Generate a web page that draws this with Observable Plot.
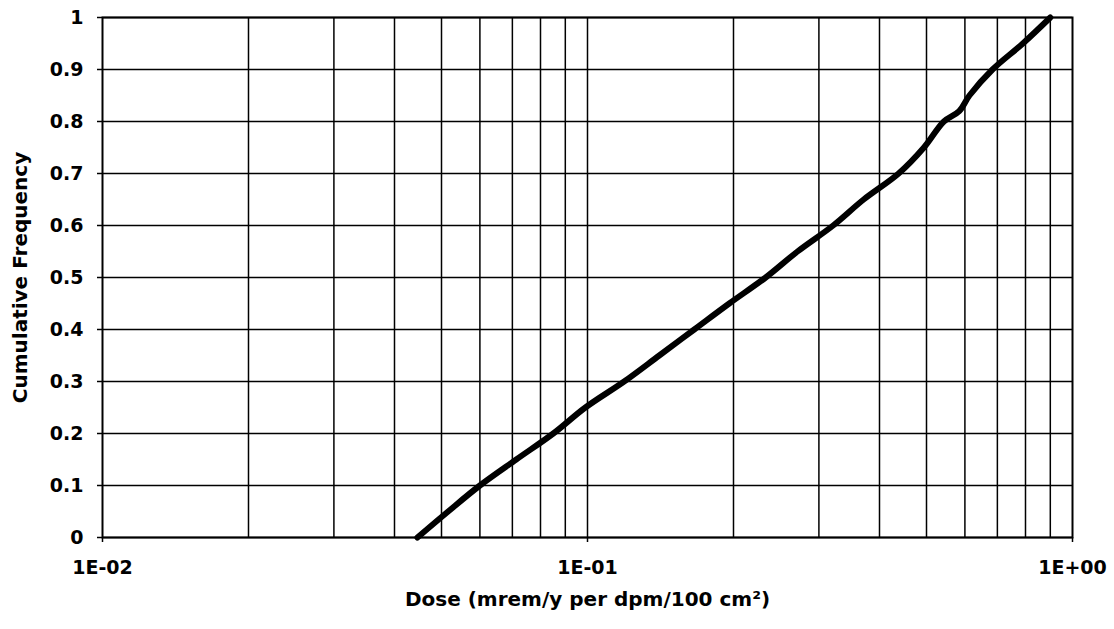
<!DOCTYPE html>
<html>
<head>
<meta charset="utf-8">
<script src="https://cdn.jsdelivr.net/npm/d3@7"></script>
<script src="https://cdn.jsdelivr.net/npm/@observablehq/plot@0.6"></script>
<style>
  html, body { margin: 0; padding: 0; background: #fff; }
</style>
</head>
<body>
<div id="chart"></div>
<script>
// Cumulative frequency curve (dose vs cumulative frequency)
const dose = [0.0446, 0.0516, 0.060, 0.0713, 0.085, 0.099, 0.119, 0.1406, 0.166, 0.196, 0.233, 0.271, 0.321, 0.371, 0.438, 0.494, 0.543, 0.584, 0.613, 0.684, 0.790, 0.900];
const freq = [0, 0.05, 0.10, 0.15, 0.20, 0.25, 0.30, 0.35, 0.40, 0.45, 0.50, 0.55, 0.60, 0.65, 0.70, 0.75, 0.80, 0.82, 0.85, 0.90, 0.95, 1.00];

const xMajorTicks = [0.01, 0.1, 1];
const xTickLabels = ["1E-02", "1E-01", "1E+00"];
const xGridTicks = [0.02, 0.03, 0.04, 0.05, 0.06, 0.07, 0.08, 0.09, 0.1, 0.2, 0.3, 0.4, 0.5, 0.6, 0.7, 0.8, 0.9];
const yTicks = [0, 0.1, 0.2, 0.3, 0.4, 0.5, 0.6, 0.7, 0.8, 0.9, 1];
const yTickLabels = ["0", "0.1", "0.2", "0.3", "0.4", "0.5", "0.6", "0.7", "0.8", "0.9", "1"];
const xTitle = "Dose (mrem/y per dpm/100 cm²)";
const yTitle = "Cumulative Frequency";

const data = dose.map((d, i) => ({dose: d, freq: freq[i]}));

const chart = Plot.plot({
  width: 1114,
  height: 629,
  marginLeft: 102,
  marginRight: 42,
  marginTop: 17,
  marginBottom: 92,
  style: {fontFamily: "'DejaVu Sans', sans-serif", fontSize: "19px", fontWeight: "bold", color: "black", background: "white"},
  x: {type: "log", domain: [0.01, 1]},
  y: {domain: [0, 1]},
  marks: [
    Plot.ruleX(xGridTicks, {stroke: "black", strokeWidth: 1.5}),
    Plot.ruleY(yTicks, {stroke: "black", strokeWidth: 1.5}),
    Plot.axisX({ticks: xMajorTicks, tickFormat: (d) => xTickLabels[xMajorTicks.indexOf(d)], tickSize: 5, tickPadding: 18, label: null, stroke: "black", strokeWidth: 1.5}),
    Plot.axisY({ticks: yTicks, tickFormat: (d) => yTickLabels[yTicks.indexOf(d)], tickSize: 5, tickPadding: 14, label: null, stroke: "black", strokeWidth: 1.5}),
    Plot.frame({stroke: "black", strokeWidth: 2}),
    Plot.line(data, {x: "dose", y: "freq", stroke: "black", strokeWidth: 6, curve: "catmull-rom", strokeLinecap: "round", strokeLinejoin: "round"}),
    Plot.text([xTitle], {text: d => d, frameAnchor: "bottom", textAnchor: "middle", dy: 68, fontSize: 20, fontWeight: "bold"}),
    Plot.text([yTitle], {text: d => d, frameAnchor: "left", textAnchor: "middle", rotate: -90, dx: -82, fontSize: 20, fontWeight: "bold"})
  ]
});
document.getElementById("chart").appendChild(chart);
</script>
</body>
</html>
